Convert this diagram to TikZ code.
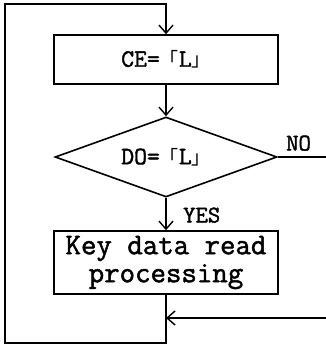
\documentclass[tikz,border=0pt]{standalone}
\usepackage{fontspec}
\newfontfamily\cour{Latin Modern Mono}[FakeBold=1.6]
\newfontfamily\cjkfont{Noto Sans CJK JP}
\usetikzlibrary{shapes.geometric,arrows.meta}
\newcommand{\lbrk}{{\cjkfont\fontsize{19}{19}\selectfont 「}}
\newcommand{\rbrk}{{\cjkfont\fontsize{19}{19}\selectfont 」}}
\begin{document}
\begin{tikzpicture}[x=1pt,y=-1pt,
  line/.style={line width=1.6pt, draw=black},
  arr/.style={line, -{Straight Barb[length=8pt,width=14pt,line width=1.4pt]}},
  procbox/.style={line, rectangle, inner sep=0pt, align=center},
  decision/.style={line, diamond, inner sep=0pt, aspect=2.8},
  lbl/.style={font=\cour\fontsize{24}{24}\selectfont, inner sep=0pt}]
\useasboundingbox (0,0) rectangle (326,345);
\node[procbox, minimum width=224pt, minimum height=49pt,
  font=\cour\fontsize{25}{25}\selectfont] (b1) at (166,59.5) {CE=\lbrk L\rbrk};
\node[decision, minimum width=222pt, minimum height=80pt,
  font=\cour\fontsize{25}{25}\selectfont] (d) at (166,157) {DO=\lbrk L\rbrk};
\node[procbox, minimum width=224pt, minimum height=63pt,
  font=\cour\fontsize{30}{28}\selectfont] (b2) at (166,262.5) {Key data read\\processing};
\coordinate (tl) at (5,4);
\coordinate (tr) at (166,4);
\coordinate (bl) at (5,343);
\coordinate (br) at (166,343);
\coordinate (join) at (166,318);
\coordinate (inR) at (326,318);
\coordinate (noR) at (326,157);
\draw[arr] (b2.south) -- (br) -- (bl) -- (tl) -- (tr) -- (b1.north);
\draw[arr] (b1.south) -- (d.north);
\draw[arr] (d.south) -- (b2.north);
\draw[line] (d.east) -- (noR);
\draw[arr] (inR) -- (join);
\node[lbl, anchor=south west] (no) at (286,151) {NO};
\node[lbl, anchor=south west] (yes) at (183,223) {YES};
\end{tikzpicture}
\end{document}
